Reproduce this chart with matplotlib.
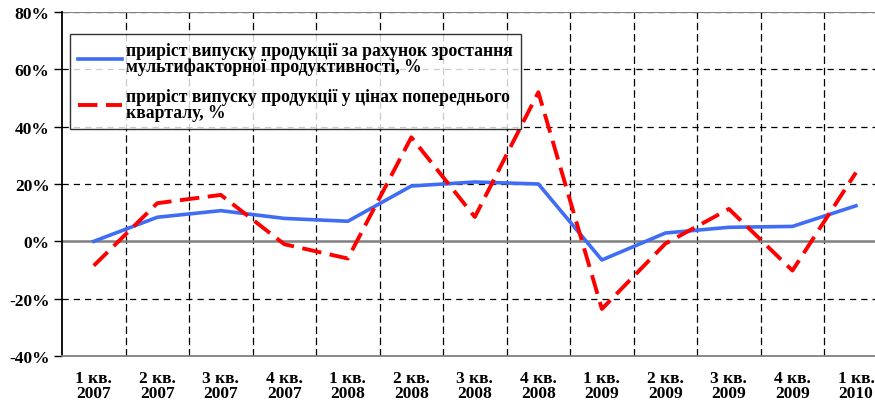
import numpy as np
import matplotlib.pyplot as plt

quarters = ["1 кв.\n2007", "2 кв.\n2007", "3 кв.\n2007", "4 кв.\n2007",
            "1 кв.\n2008", "2 кв.\n2008", "3 кв.\n2008", "4 кв.\n2008",
            "1 кв.\n2009", "2 кв.\n2009", "3 кв.\n2009", "4 кв.\n2009",
            "1 кв.\n2010"]
mfp_growth = [0, 8.4, 10.7, 8.0, 7.0, 19.3, 20.7, 20.0, -6.5, 2.9, 4.9, 5.2, 12.4]
output_growth = [-8.5, 13.3, 16.2, -1.0, -6.0, 36.3, 8.5, 52.0, -23.6, -0.8, 11.3, -10.2, 24.0]

plt.rcParams['font.family'] = ['Liberation Serif', 'DejaVu Serif']
plt.rcParams['font.weight'] = 'bold'

fig = plt.figure(figsize=(8.75, 4.02), dpi=100)
ax = fig.add_axes([62 / 875, 45 / 402, 813 / 875, 344 / 402])

x = np.arange(len(quarters))
ax.plot(x, mfp_growth, color="#3F6DF5", lw=2.6,
        label="приріст випуску продукції за рахунок зростання\nмультифакторної продуктивності, %")
ax.plot(x, output_growth, color="#FF0000", lw=2.8, dashes=(5, 2.2),
        label="приріст випуску продукції у цінах попереднього\nкварталу, %")

ax.set_ylim(-40, 80)
ax.set_xlim(-0.5, 12.3)
ax.set_yticks(np.arange(-40, 81, 20))
ax.set_yticklabels([f"{v}%" for v in range(-40, 81, 20)], fontsize=12.5, fontweight='bold')
ax.set_xticks(x)
ax.set_xticklabels(quarters, fontsize=12.5, fontweight='bold', linespacing=0.95)
ax.tick_params(axis='x', length=0, pad=10)
ax.tick_params(axis='y', direction='out', length=6, width=1, pad=3)

for v in range(-20, 81, 20):
    if v != 0:
        ax.axhline(v, color='black', lw=0.9, dashes=(5, 4), zorder=0)
for b in np.arange(0.5, 12.5, 1):
    ax.axvline(b, color='black', lw=0.9, dashes=(6, 3), zorder=0)
ax.axhline(0, color='#808080', lw=1.8, zorder=1)
ax.axhline(80, color='#808080', lw=1.5, zorder=1)

ax.spines['top'].set_visible(False)
ax.spines['right'].set_visible(False)
ax.spines['bottom'].set_color('#808080')
ax.spines['bottom'].set_linewidth(1.3)
ax.spines['left'].set_linewidth(1.3)

leg = ax.legend(loc='upper left', bbox_to_anchor=(8 / 813, 1 - 22 / 344),
                prop={'weight': 'bold', 'size': 12.7}, frameon=True, fancybox=False,
                handlelength=2.5, handletextpad=0.25, labelspacing=0.75,
                borderpad=0.45, borderaxespad=0)
for t in leg.get_texts():
    t.set_linespacing(0.9)
leg.get_frame().set_edgecolor('black')
leg.get_frame().set_linewidth(1.0)

fig.savefig("out.png", dpi=100)
